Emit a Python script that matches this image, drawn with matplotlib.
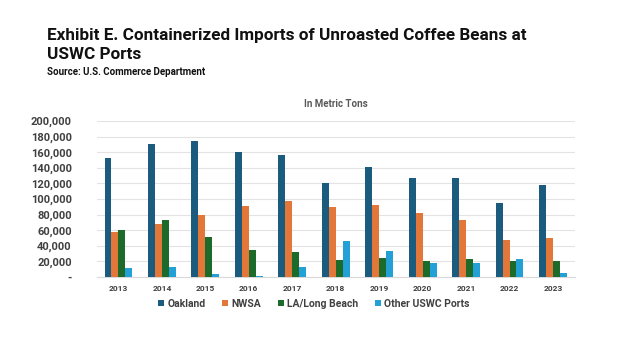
import numpy as np
import matplotlib.pyplot as plt
from matplotlib.ticker import FuncFormatter

years = ["2013", "2014", "2015", "2016", "2017", "2018",
         "2019", "2020", "2021", "2022", "2023"]
oakland = [152000, 171000, 174000, 160500, 156000, 120000,
           141000, 127000, 127500, 95500, 118000]
nwsa = [57500, 67500, 80000, 91500, 97000, 89500,
        92000, 81500, 72500, 47000, 50000]
la_long_beach = [60000, 73500, 51500, 35000, 32000, 22000,
                 24000, 21000, 22500, 20000, 21000]
other_uswc = [11500, 12500, 3500, 1500, 12500, 45500,
              33000, 17500, 17500, 23500, 4500]

series_names = ["Oakland", "NWSA", "LA/Long Beach", "Other USWC Ports"]
colors = ["#1b5b7d", "#e3773a", "#1d6b2a", "#23a0d6"]

plt.rcParams["font.family"] = ["Roboto", "DejaVu Sans"]

fig = plt.figure(figsize=(6.24, 3.51), dpi=100)
ax = fig.add_axes([0.155, 0.211, 0.766, 0.444])

x = np.arange(len(years))
width = 0.16
all_series = [oakland, nwsa, la_long_beach, other_uswc]
for i, (vals, name, col) in enumerate(zip(all_series, series_names, colors)):
    ax.bar(x + (i - 1.5) * width, vals, width, color=col, label=name, zorder=3)

ax.set_ylim(0, 200000)
ax.set_yticks(np.arange(0, 200001, 20000))
ax.yaxis.set_major_formatter(FuncFormatter(lambda v, p: "-" if v == 0 else f"{int(v):,}"))
ax.set_xlim(-0.5, len(years) - 0.5)
ax.set_xticks(x)
ax.set_xticklabels(years)

ax.grid(axis="y", color="#e3e3e3", linewidth=0.8, zorder=0)
for s in ["top", "right", "left"]:
    ax.spines[s].set_visible(False)
ax.spines["bottom"].set_color("#d9d9d9")
ax.tick_params(axis="both", length=0)
ax.tick_params(axis="y", labelsize=8, labelcolor="#404040", pad=18)
ax.tick_params(axis="x", labelsize=6, labelcolor="#404040", pad=6)
for lab in ax.get_yticklabels() + ax.get_xticklabels():
    lab.set_fontweight("bold")

ax.set_title("In Metric Tons", fontsize=7, color="#595959", fontweight="bold", pad=10)

fig.text(0.075, 0.885, "Exhibit E. Containerized Imports of Unroasted Coffee Beans at",
         fontsize=12.3, fontweight="bold", color="#111111")
fig.text(0.075, 0.833, "USWC Ports", fontsize=12.3, fontweight="bold", color="#111111")
fig.text(0.075, 0.787, "Source: U.S. Commerce Department", fontsize=7,
         fontweight="bold", color="#111111")

leg = fig.legend(loc="center", bbox_to_anchor=(0.503, 0.135), ncol=4, frameon=False,
                 fontsize=7.5, handlelength=0.6, handleheight=0.6, handletextpad=0.3,
                 columnspacing=1.6)
for t in leg.get_texts():
    t.set_fontweight("bold")
    t.set_color("#404040")

fig.savefig("out.png", dpi=100)
